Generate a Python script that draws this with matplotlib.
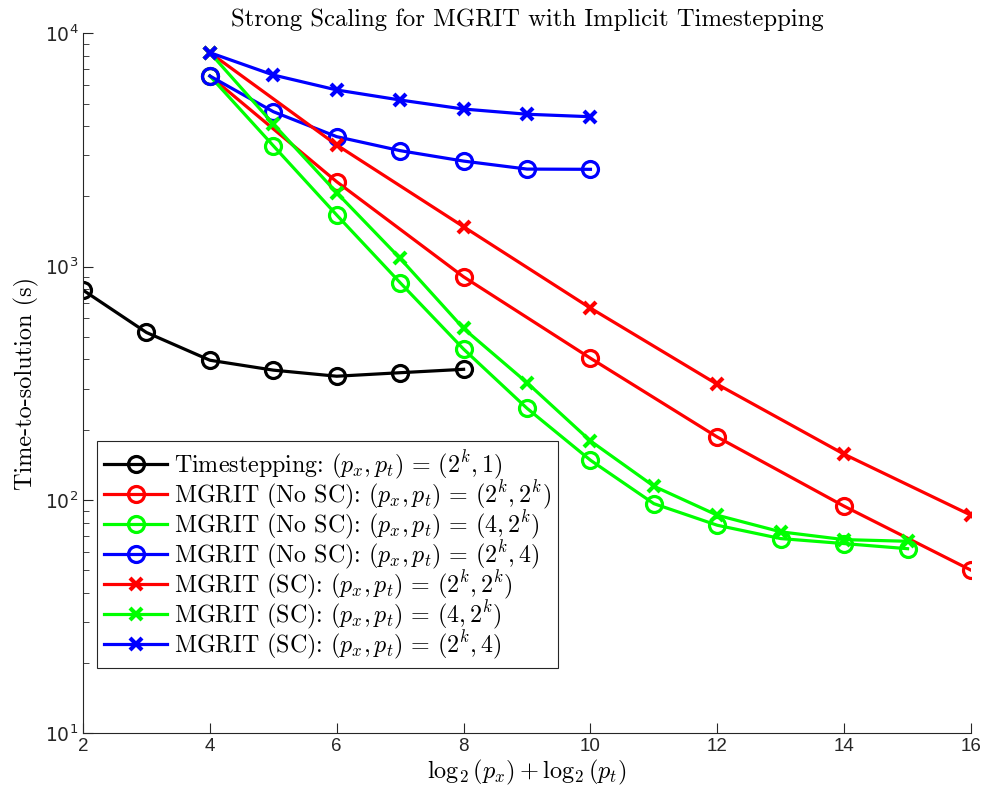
import matplotlib
matplotlib.use("Agg")
import matplotlib.pyplot as plt
from matplotlib.ticker import FixedLocator, NullFormatter, LogLocator

plt.rcParams['mathtext.fontset'] = 'cm'
plt.rcParams['axes.unicode_minus'] = False

# data
x_ts = [2, 3, 4, 5, 6, 7, 8]
t_ts = [793, 522, 397, 360, 339, 351, 363]

x_red = [4, 6, 8, 10, 12, 14, 16]
t_red_nosc = [6560, 2310, 904, 405, 186, 94, 50]
t_red_sc = [8260, 3320, 1482, 664, 313, 157, 86]

x_green = [4, 5, 6, 7, 8, 9, 10, 11, 12, 13, 14, 15]
t_green_nosc = [6560, 3296, 1663, 853, 443, 247, 148, 96.4, 77.9, 68.3, 65, 61.8]
t_green_sc = [8260, 4085, 2073, 1084, 543, 318, 179, 114.5, 86, 73, 67.6, 66.5]

x_blue = [4, 5, 6, 7, 8, 9, 10]
t_blue_nosc = [6560, 4613, 3605, 3140, 2833, 2618, 2612]
t_blue_sc = [8260, 6625, 5715, 5176, 4735, 4498, 4389]

labels = [
    r'Timestepping: $(p_x,p_t)\,=\,(2^k,1)$',
    r'MGRIT (No SC): $(p_x,p_t)\,=\,(2^k,2^k)$',
    r'MGRIT (No SC): $(p_x,p_t)\,=\,(4,2^k)$',
    r'MGRIT (No SC): $(p_x,p_t)\,=\,(2^k,4)$',
    r'MGRIT (SC): $(p_x,p_t)\,=\,(2^k,2^k)$',
    r'MGRIT (SC): $(p_x,p_t)\,=\,(4,2^k)$',
    r'MGRIT (SC): $(p_x,p_t)\,=\,(2^k,4)$',
]
xticks = [2, 4, 6, 8, 10, 12, 14, 16]
yticks = [10, 100, 1000, 10000]

green = (0, 1, 0)
axcol = '#262626'
fig = plt.figure(figsize=(9.85, 8.02), dpi=100)
ax = fig.add_axes([0.0843, 0.0857, 0.9015, 0.8728])

lw = 2.3
circ = dict(marker='o', markersize=11.5, markerfacecolor='none', markeredgewidth=2.3, linewidth=lw)
cross = dict(marker='x', markersize=8, markeredgewidth=3, linewidth=lw)

ax.plot(x_ts, t_ts, color='k', label=labels[0], **circ)
ax.plot(x_red, t_red_nosc, color='r', label=labels[1], **circ)
ax.plot(x_green, t_green_nosc, color=green, label=labels[2], **circ)
ax.plot(x_blue, t_blue_nosc, color='b', label=labels[3], **circ)
ax.plot(x_red, t_red_sc, color='r', label=labels[4], **cross)
ax.plot(x_green, t_green_sc, color=green, label=labels[5], **cross)
ax.plot(x_blue, t_blue_sc, color='b', label=labels[6], **cross)

ax.set_yscale('log')
ax.set_xlim(2, 16)
ax.set_ylim(10, 1e4)
ax.set_xticks(xticks)
ax.set_xticklabels([str(v) for v in xticks])
ax.yaxis.set_major_locator(FixedLocator(yticks))
ax.set_yticklabels([r'$10^{%d}$' % len(str(v)[1:]) for v in yticks])
ax.yaxis.set_minor_locator(LogLocator(base=10, subs=range(2, 10)))
ax.yaxis.set_minor_formatter(NullFormatter())

for s in ['top', 'right']:
    ax.spines[s].set_visible(False)
for s in ['left', 'bottom']:
    ax.spines[s].set_color(axcol)
    ax.spines[s].set_linewidth(0.8)
ax.tick_params(which='both', direction='in', colors=axcol, labelsize=13.5)
ax.tick_params(which='major', length=7)
ax.tick_params(which='minor', length=4)
for t in ax.get_xticklabels() + ax.get_yticklabels():
    t.set_fontfamily('Liberation Sans')
    t.set_math_fontfamily('dejavusans')

ax.set_title('Strong Scaling for MGRIT with Implicit Timestepping', fontsize=17.8,
             fontfamily='cmr10', pad=5)
ax.set_xlabel(r'$\log_2(p_x) + \log_2(p_t)$', fontsize=17.5, labelpad=2)
ax.set_ylabel('Time-to-solution (s)', fontsize=17.5, fontfamily='cmr10', labelpad=4)

leg = ax.legend(loc='lower left', bbox_to_anchor=(0.0158, 0.093), borderaxespad=0,
                prop={'size': 17.3, 'family': 'cmr10'}, handlelength=2.6, labelspacing=-0.1,
                fancybox=False, framealpha=1, edgecolor=axcol, borderpad=0.3,
                handletextpad=0.3)
leg.get_frame().set_linewidth(0.8)

fig.savefig('out.png', dpi=100)
